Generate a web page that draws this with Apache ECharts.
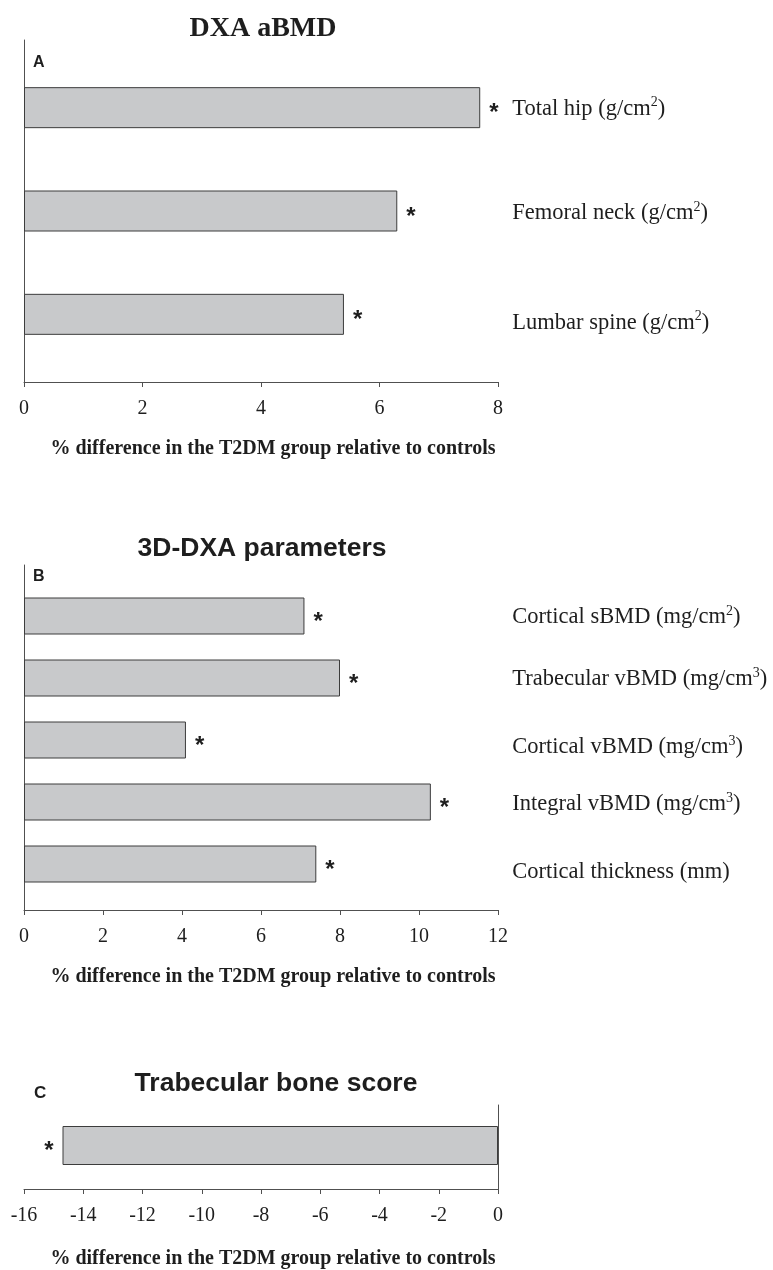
<!DOCTYPE html>
<html>
<head>
<meta charset="utf-8">
<title>Bone parameters in T2DM</title>
<script src="https://cdn.jsdelivr.net/npm/echarts@6/dist/echarts.min.js"></script>
<style>
  html, body { margin: 0; padding: 0; background: #ffffff; }
  #chart { width: 773px; height: 1270px; }
</style>
</head>
<body>
<div id="chart"></div>
<script>
// Panel A: DXA areal BMD
const aCategories = ['Total hip (g/cm²)', 'Femoral neck (g/cm²)', 'Lumbar spine (g/cm²)'];
const aValues = [7.7, 6.3, 5.4];
const aTicks = { min: 0, max: 8, interval: 2 };

// Panel B: 3D-DXA parameters
const bCategories = [
  'Cortical sBMD (mg/cm²)',
  'Trabecular vBMD (mg/cm³)',
  'Cortical vBMD (mg/cm³)',
  'Integral vBMD (mg/cm³)',
  'Cortical thickness (mm)'
];
const bValues = [7.1, 8.0, 4.1, 10.3, 7.4];
const bTicks = { min: 0, max: 12, interval: 2 };

// Panel C: trabecular bone score
const cCategories = ['TBS'];
const cValues = [-14.7];
const cTicks = { min: -16, max: 0, interval: 2 };

const xAxisName = '% difference in the T2DM group relative to controls';
const significance = '*';

// layout: small downward shifts (px) of individual category labels
const aLabelShift = [0, 1, 7];
const bLabelShift = [0, 0, 6, 1, 7];

const SERIF = '"Liberation Serif", "Times New Roman", serif';
const SANS = '"Liberation Sans", Arial, sans-serif';
const INK = '#1e1e1e';
const AXIS = '#505050';
const LINE_H = 26;

// rich styles: base text, raised superscript and spacer rows used to shift a label down
function labelRich(shifts) {
  const rich = {
    t: { fontFamily: SERIF, fontSize: 22.5, color: INK, lineHeight: LINE_H, verticalAlign: 'bottom' },
    sup: { fontFamily: SERIF, fontSize: 14, color: INK, lineHeight: 14, verticalAlign: 'bottom', padding: [0, 0, 11, 0] }
  };
  shifts.forEach((s, i) => {
    rich['g' + i] = { fontSize: 1, lineHeight: LINE_H + 2 * s, verticalAlign: 'bottom' };
  });
  return rich;
}

function labelFormatter(value, index) {
  const body = value.replace(/[²³]/g, m => '}{sup|' + (m === '²' ? '2' : '3') + '}{t|');
  return '{g' + index + '| }{t|' + body + '}';
}

const chart = echarts.init(document.getElementById('chart'), null, { renderer: 'canvas' });

// each panel: a frame grid (axis lines, ticks, name) and a bar grid inset vertically
function frameAxes(gridIndex, ticks, yPos, nameGap) {
  return {
    x: {
      type: 'value', gridIndex, min: ticks.min, max: ticks.max, interval: ticks.interval,
      axisLine: { show: true, lineStyle: { color: AXIS, width: 1 } },
      axisTick: { show: true, length: 5, lineStyle: { color: AXIS } },
      splitLine: { show: false },
      axisLabel: { fontFamily: SERIF, fontSize: 20, color: INK, margin: 17 },
      name: xAxisName, nameLocation: 'middle', nameGap,
      nameTextStyle: { fontFamily: SERIF, fontSize: 20, fontWeight: 'bold', color: INK, padding: [0, 0, 0, 24] }
    },
    y: {
      type: 'value', gridIndex, position: yPos, min: 0, max: 1,
      axisLine: { show: true, onZero: false, lineStyle: { color: AXIS, width: 1 } },
      axisTick: { show: false }, axisLabel: { show: false }, splitLine: { show: false }
    }
  };
}

function barAxes(gridIndex, ticks, cats, shifts) {
  return {
    x: { type: 'value', gridIndex, min: ticks.min, max: ticks.max, show: false },
    y: {
      type: 'category', gridIndex, data: cats, inverse: true, position: 'right',
      axisLine: { show: false }, axisTick: { show: false }, splitLine: { show: false },
      axisLabel: shifts ? {
        show: true, margin: 14, align: 'left',
        formatter: labelFormatter, rich: labelRich(shifts)
      } : { show: false }
    }
  };
}

function barSeries(axisIndex, values, barWidth, labelPos) {
  return {
    type: 'bar', xAxisIndex: axisIndex, yAxisIndex: axisIndex, data: values,
    barWidth, silent: true,
    itemStyle: { color: '#c8c9cb', borderColor: '#3c3c3c', borderWidth: 1 },
    label: {
      show: true, position: labelPos, distance: 9, formatter: significance,
      fontFamily: SANS, fontWeight: 'bold', fontSize: 24, color: INK, offset: [0, 6]
    }
  };
}

const fa = frameAxes(0, aTicks, 'left', 57);
const ba = barAxes(1, aTicks, aCategories, aLabelShift);
const fb = frameAxes(2, bTicks, 'left', 57);
const bb = barAxes(3, bTicks, bCategories, bLabelShift);
const fc = frameAxes(4, cTicks, 'right', 60);
const bc = barAxes(5, cTicks, cCategories, null);

const option = {
  backgroundColor: '#ffffff',
  animation: false,
  title: [
    { text: 'DXA aBMD', left: 258, top: 10, textAlign: 'center',
      textStyle: { fontFamily: SERIF, fontWeight: 'bold', fontSize: 28, color: INK } },
    { text: 'A', left: 28, top: 50,
      textStyle: { fontFamily: SANS, fontWeight: 'bold', fontSize: 16, color: INK } },
    { text: '3D-DXA parameters', left: 257, top: 530, textAlign: 'center',
      textStyle: { fontFamily: SANS, fontWeight: 'bold', fontSize: 26.5, color: INK } },
    { text: 'B', left: 28, top: 564,
      textStyle: { fontFamily: SANS, fontWeight: 'bold', fontSize: 16, color: INK } },
    { text: 'Trabecular bone score', left: 271, top: 1065, textAlign: 'center',
      textStyle: { fontFamily: SANS, fontWeight: 'bold', fontSize: 26.5, color: INK } },
    { text: 'C', left: 29, top: 1080,
      textStyle: { fontFamily: SANS, fontWeight: 'bold', fontSize: 17, color: INK } }
  ],
  grid: [
    { left: 24, width: 474, top: 40, height: 342 },
    { left: 24, width: 474, top: 56, height: 310 },
    { left: 24, width: 474, top: 565, height: 345 },
    { left: 24, width: 474, top: 585, height: 310 },
    { left: 24, width: 474, top: 1105, height: 89 },
    { left: 24, width: 474, top: 1105, height: 81 }
  ],
  xAxis: [fa.x, ba.x, fb.x, bb.x, fc.x, bc.x],
  yAxis: [fa.y, ba.y, fb.y, bb.y, fc.y, bc.y],
  series: [
    barSeries(1, aValues, 41, 'right'),
    barSeries(3, bValues, 37, 'right'),
    barSeries(5, cValues, 39, 'left')
  ]
};

chart.setOption(option);
</script>
</body>
</html>
